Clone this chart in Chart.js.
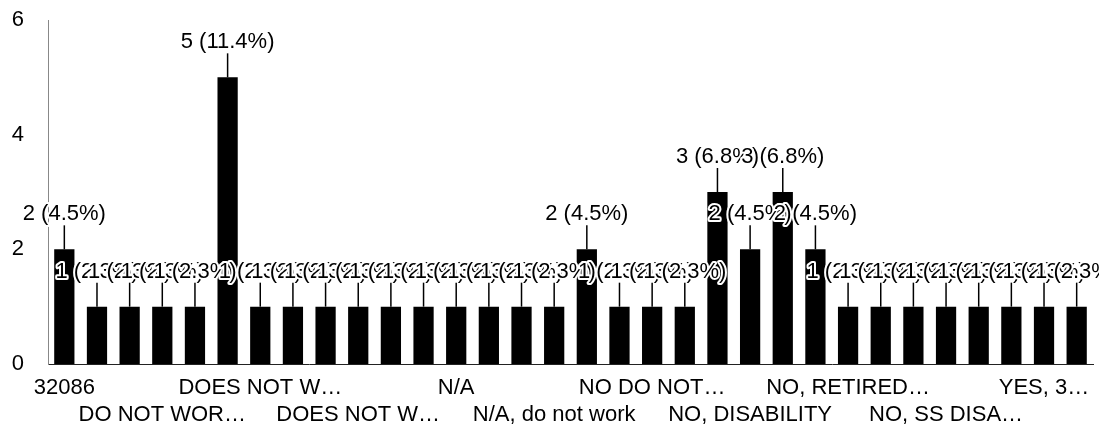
<!DOCTYPE html>
<html>
<head>
<meta charset="utf-8">
<script src="https://cdn.jsdelivr.net/npm/chart.js@4/dist/chart.umd.min.js"></script>
<style>
  html, body { margin: 0; padding: 0; background: #fff; }
  canvas { display: block; }
</style>
</head>
<body>
<canvas id="chart" width="1099" height="438"></canvas>
<script>
// Answer categories, sorted as in the printout. Only every third name is
// printed on the axis; the others are not legible and are left blank.
var categories = [
  "32086", "", "",
  "DO NOT WOR\u2026", "", "",
  "DOES NOT W\u2026", "", "",
  "DOES NOT W\u2026", "", "",
  "N/A", "", "",
  "N/A, do not work", "", "",
  "NO DO NOT\u2026", "", "",
  "NO, DISABILITY", "", "",
  "NO, RETIRED\u2026", "", "",
  "NO, SS DISA\u2026", "", "",
  "YES, 3\u2026", ""
];
var counts = [2, 1, 1, 1, 1, 5, 1, 1, 1, 1, 1, 1, 1, 1, 1, 1,
              2, 1, 1, 1, 3, 2, 3, 2, 1, 1, 1, 1, 1, 1, 1, 1];
var yTicks = [0, 2, 4, 6];

var FONT = "'Liberation Sans', Arial, sans-serif";
var total = counts.reduce(function (a, b) { return a + b; }, 0);

// Count (percent) label above each bar, with a short leader line.
// Labels are drawn left to right with a white halo, so they overlap like the original.
var barLabels = {
    id: "barLabels",
    afterDatasetsDraw: function (chart) {
        var ctx = chart.ctx;
        var meta = chart.getDatasetMeta(0);
        ctx.save();
        ctx.font = "22px " + FONT;
        ctx.textAlign = "center";
        ctx.textBaseline = "middle";
        ctx.lineJoin = "round";
        meta.data.forEach(function (bar, i) {
            var v = counts[i];
            var text = v + " (" + (v / total * 100).toFixed(1) + "%)";
            ctx.strokeStyle = "#000";
            ctx.lineWidth = 1.5;
            ctx.beginPath();
            ctx.moveTo(bar.x, bar.y);
            ctx.lineTo(bar.x, bar.y - 24);
            ctx.stroke();
            ctx.strokeStyle = "#fff";
            ctx.lineWidth = 4;
            ctx.strokeText(text, bar.x, bar.y - 35);
            ctx.fillStyle = "#000";
            ctx.fillText(text, bar.x, bar.y - 35);
        });
        ctx.restore();
    }
};

new Chart(document.getElementById("chart"), {
    type: "bar",
    data: {
        labels: categories,
        datasets: [{
            data: counts,
            backgroundColor: "#000",
            borderWidth: 0,
            barPercentage: 0.62,
            categoryPercentage: 1
        }]
    },
    options: {
        responsive: false,
        animation: false,
        layout: { padding: { top: 20, right: 6, left: 0, bottom: 0 } },
        plugins: { legend: { display: false }, tooltip: { enabled: false } },
        scales: {
            x: {
                grid: { display: false, drawTicks: false },
                border: { display: true, color: "#222", width: 1 },
                afterFit: function (scale) { scale.height = 74; },
                ticks: {
                    autoSkip: false,
                    maxRotation: 0,
                    minRotation: 0,
                    padding: 10,
                    color: "#000",
                    font: { family: FONT, size: 22, lineHeight: 1.25 },
                    // every third name, alternating between two rows
                    callback: function (value, index) {
                        if (index % 3 !== 0) return "";
                        var label = categories[index];
                        return (index / 3) % 2 === 0 ? [label, ""] : ["", label];
                    }
                }
            },
            y: {
                min: 0,
                max: 6,
                grid: { display: false, drawTicks: false },
                border: { display: true, color: "#888", width: 1, dash: [2, 3] },
                afterFit: function (scale) {
                    scale.width = 48;
                    scale.paddingTop = 0;
                    scale.paddingBottom = 0;
                },
                afterBuildTicks: function (scale) {
                    scale.ticks = yTicks.map(function (v) { return { value: v }; });
                },
                ticks: {
                    padding: 24,
                    color: "#000",
                    font: { family: FONT, size: 22 }
                }
            }
        }
    },
    plugins: [barLabels]
});
</script>
</body>
</html>
